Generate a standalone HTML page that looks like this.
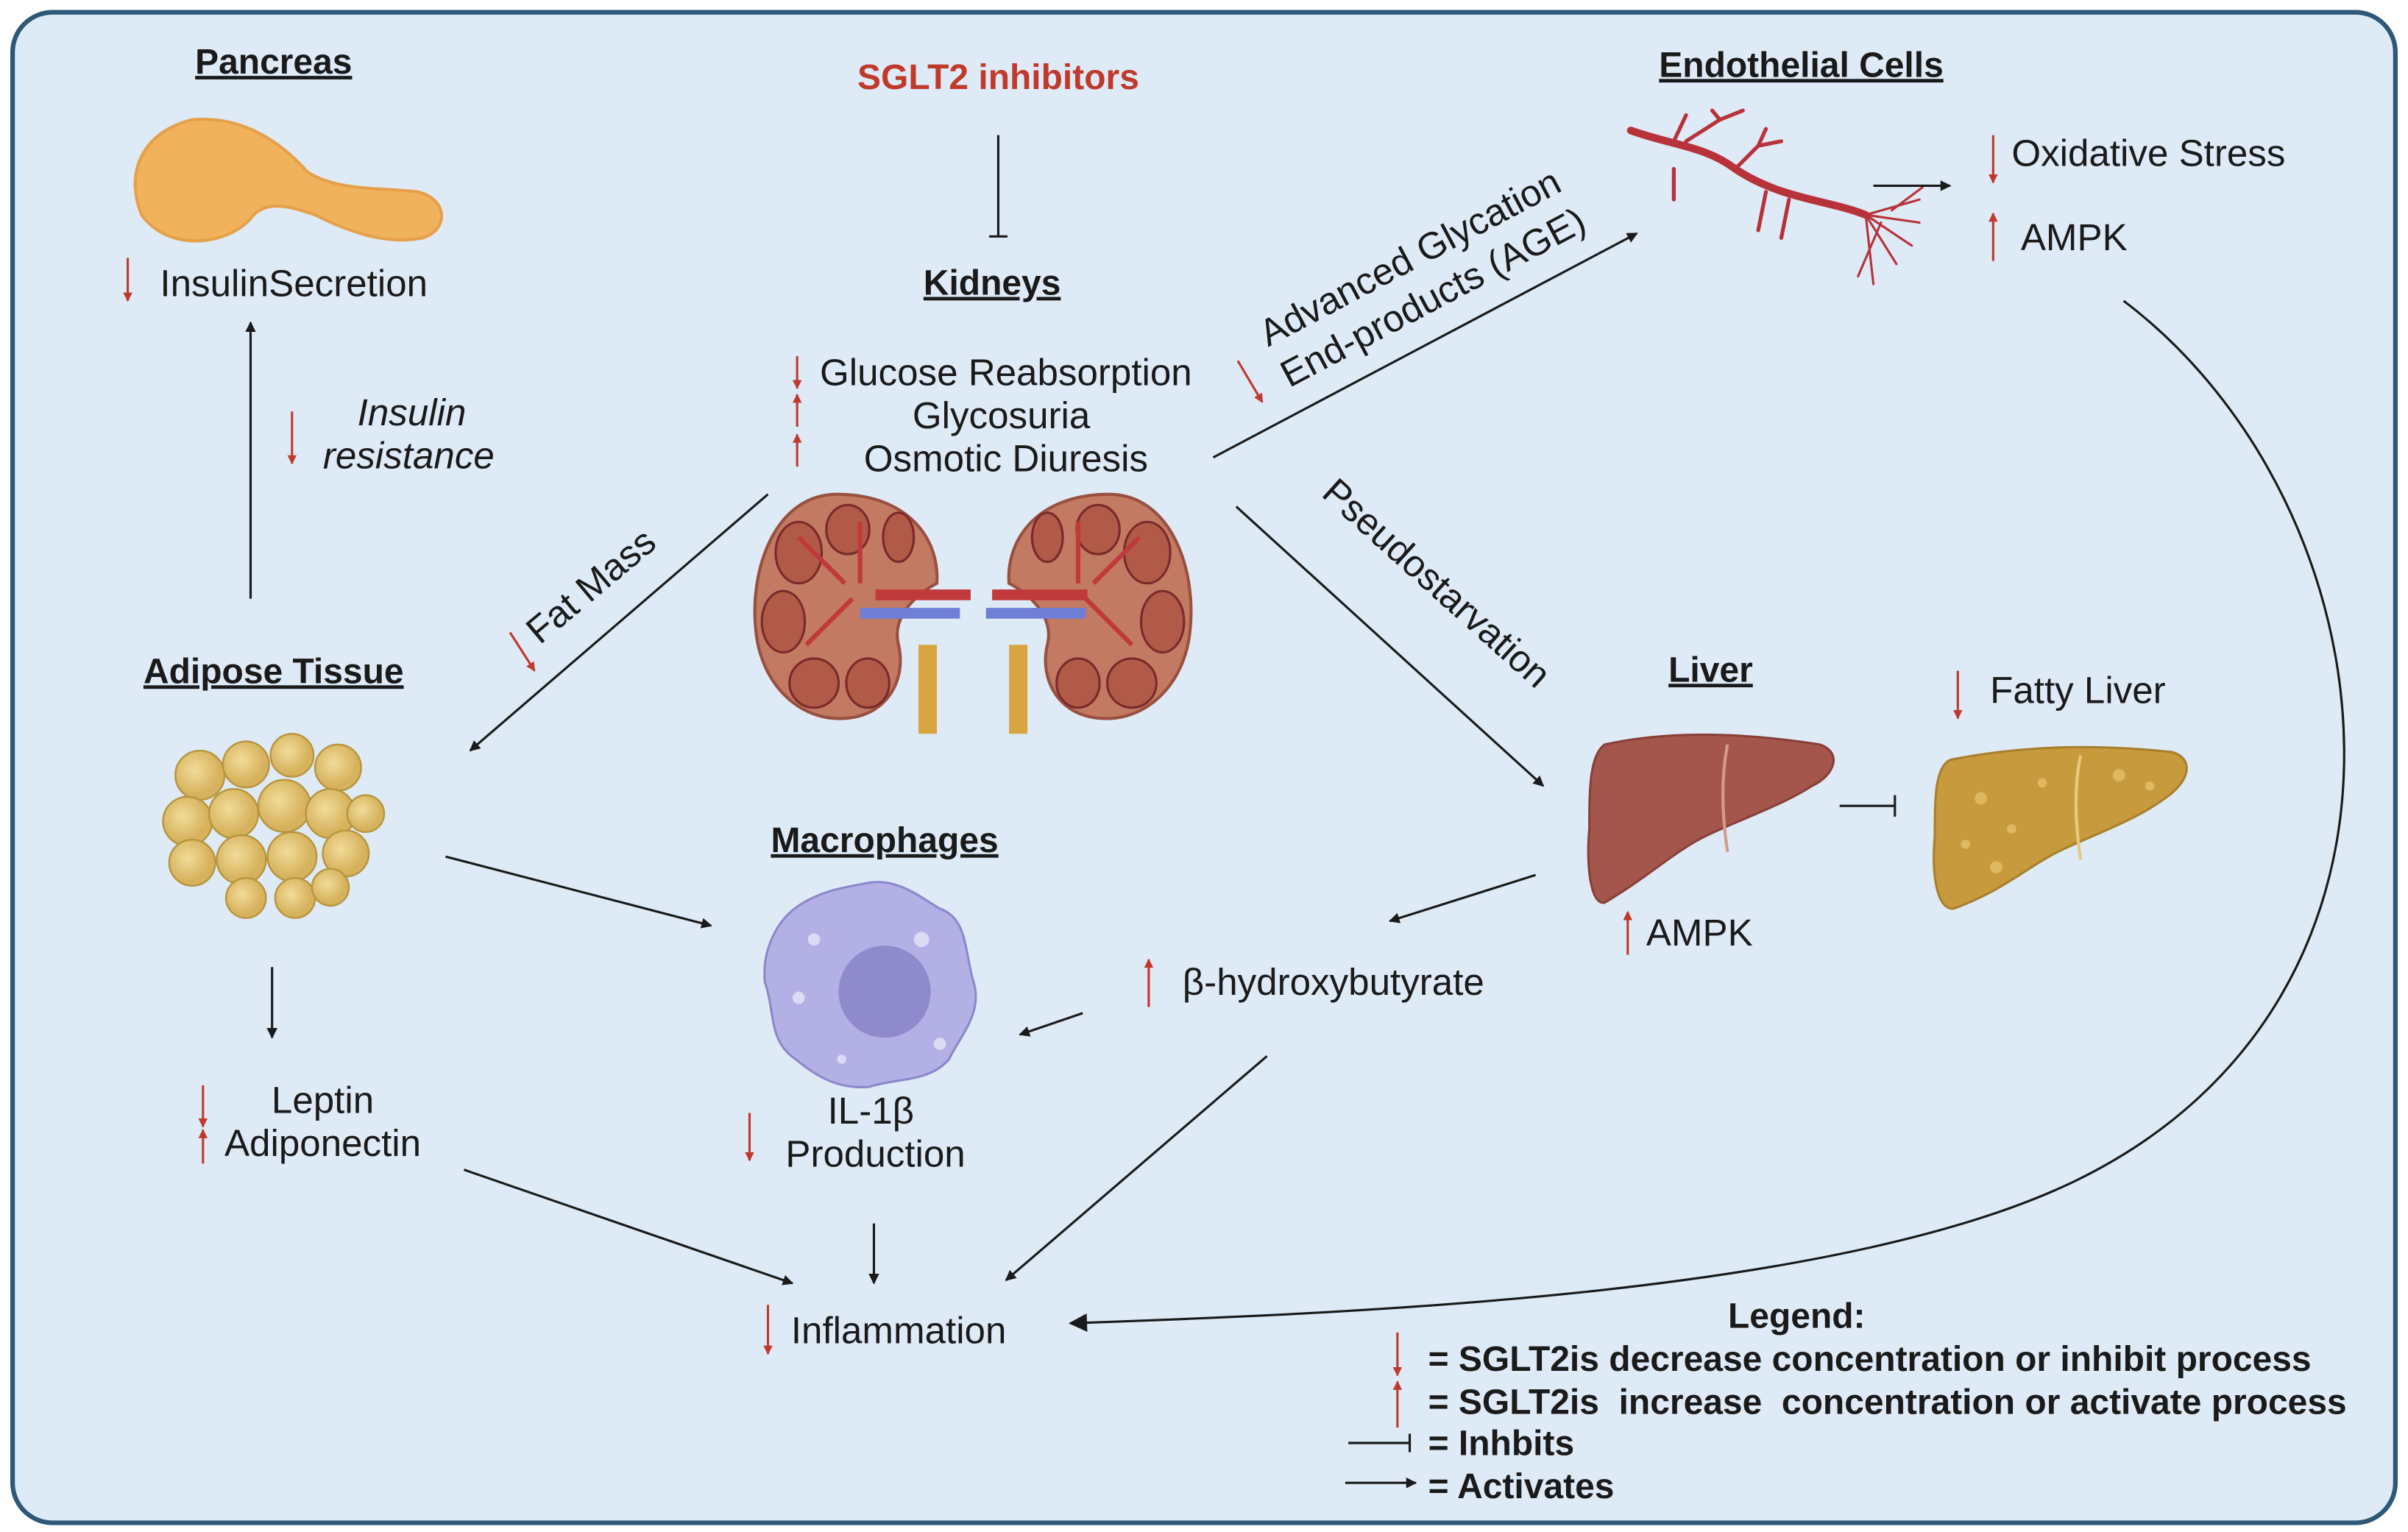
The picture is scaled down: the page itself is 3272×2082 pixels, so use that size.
<!DOCTYPE html>
<html><head><meta charset="utf-8"><style>
html,body{margin:0;padding:0;background:#fff}
svg{display:block}
text{font-family:"Liberation Sans",sans-serif;fill:#1a1a1a}
.h{font-weight:bold;font-size:23px;text-decoration:underline}
.t{font-size:24.5px}
.lg{font-size:23px;font-weight:bold}
</style></head><body>
<svg width="3272" height="2082" viewBox="0 0 1568 998" xmlns="http://www.w3.org/2000/svg">
<defs>
<marker id="a" viewBox="0 0 10 10" refX="9" refY="5" markerWidth="7" markerHeight="7" orient="auto" markerUnits="userSpaceOnUse"><path d="M0,0 L10,5 L0,10 z" fill="#1a1a1a"/></marker>
<marker id="ab" viewBox="0 0 10 10" refX="9" refY="5" markerWidth="14" markerHeight="12" orient="auto" markerUnits="userSpaceOnUse"><path d="M0,0 L10,5 L0,10 z" fill="#1a1a1a"/></marker>
<marker id="r" viewBox="0 0 10 10" refX="9" refY="5" markerWidth="8" markerHeight="6" orient="auto" markerUnits="userSpaceOnUse"><path d="M0,0 L10,5 L0,10 z" fill="#c0392b"/></marker>
<radialGradient id="cell" cx="0.4" cy="0.4"><stop offset="0" stop-color="#f2dc9a"/><stop offset="1" stop-color="#d6b25c"/></radialGradient>
</defs>
<rect x="0" y="0" width="1568" height="998" fill="#fff"/>
<rect x="8" y="8" width="1552" height="984" rx="26" fill="#deebf7" stroke="#2d5878" stroke-width="3"/>

<text class="h" x="178" y="48" text-anchor="middle">Pancreas</text>
<text x="650" y="58" text-anchor="middle" style="font-weight:bold;font-size:23px;fill:#c0392b">SGLT2 inhibitors</text>
<text class="h" x="1173" y="50" text-anchor="middle">Endothelial Cells</text>
<text class="h" x="646" y="192" text-anchor="middle">Kidneys</text>
<text class="h" x="178" y="445" text-anchor="middle">Adipose Tissue</text>
<text class="h" x="576" y="555" text-anchor="middle">Macrophages</text>
<text class="h" x="1114" y="444" text-anchor="middle">Liver</text>

<!-- pancreas -->
<path d="M92,140 C80,110 95,85 125,78 C160,75 185,95 200,112 C220,125 250,122 272,125 C292,130 292,150 275,155 C250,160 225,150 205,140 C190,135 175,130 165,140 C150,160 110,165 92,140 Z" fill="#f0b25c" stroke="#e6a04a" stroke-width="2"/>

<line x1="83" y1="168" x2="83" y2="196" stroke="#c0392b" stroke-width="1.5" marker-end="url(#r)"/>
<text class="t" x="104" y="193">InsulinSecretion</text>
<line x1="163" y1="390" x2="163" y2="210" stroke="#1a1a1a" stroke-width="1.5" marker-end="url(#a)"/>
<line x1="190" y1="268" x2="190" y2="302" stroke="#c0392b" stroke-width="1.5" marker-end="url(#r)"/>
<text class="t" x="268" y="277" text-anchor="middle" font-style="italic">Insulin</text>
<text class="t" x="266" y="305" text-anchor="middle" font-style="italic">resistance</text>

<line x1="650" y1="88" x2="650" y2="154" stroke="#1a1a1a" stroke-width="1.5"/>
<line x1="644" y1="154" x2="656" y2="154" stroke="#1a1a1a" stroke-width="1.5"/>

<line x1="519" y1="232" x2="519" y2="253" stroke="#c0392b" stroke-width="1.5" marker-end="url(#r)"/>
<line x1="519" y1="278" x2="519" y2="257" stroke="#c0392b" stroke-width="1.5" marker-end="url(#r)"/>
<line x1="519" y1="304" x2="519" y2="283" stroke="#c0392b" stroke-width="1.5" marker-end="url(#r)"/>
<text class="t" x="655" y="251" text-anchor="middle">Glucose Reabsorption</text>
<text class="t" x="652" y="279" text-anchor="middle">Glycosuria</text>
<text class="t" x="655" y="307" text-anchor="middle">Osmotic Diuresis</text>

<!-- kidneys -->
<g>
<path d="M598,420 L598,478 L610,478 L610,420 Z" fill="#d9a540"/>
<path d="M657,420 L657,478 L669,478 L669,420 Z" fill="#d9a540"/>
<path d="M545,322 C505,322 488,370 492,410 C495,445 520,470 550,468 C580,466 590,440 585,420 C580,400 600,385 610,380 C612,350 590,322 545,322 Z" fill="#c27a63" stroke="#9a5040" stroke-width="2"/>
<path d="M722,322 C762,322 779,370 775,410 C772,445 747,470 717,468 C687,466 677,440 682,420 C687,400 667,385 657,380 C655,350 677,322 722,322 Z" fill="#c27a63" stroke="#9a5040" stroke-width="2"/>
<g fill="#b25a48" stroke="#7a2a2a" stroke-width="1.5">
<ellipse cx="520" cy="360" rx="15" ry="20"/><ellipse cx="510" cy="405" rx="14" ry="20"/><ellipse cx="530" cy="445" rx="16" ry="16"/><ellipse cx="565" cy="445" rx="14" ry="16"/><ellipse cx="552" cy="345" rx="14" ry="16"/><ellipse cx="585" cy="350" rx="10" ry="16"/>
<ellipse cx="747" cy="360" rx="15" ry="20"/><ellipse cx="757" cy="405" rx="14" ry="20"/><ellipse cx="737" cy="445" rx="16" ry="16"/><ellipse cx="702" cy="445" rx="14" ry="16"/><ellipse cx="715" cy="345" rx="14" ry="16"/><ellipse cx="682" cy="350" rx="10" ry="16"/>
</g>
<rect x="560" y="396" width="65" height="7" fill="#6f7fd8"/>
<rect x="642" y="396" width="65" height="7" fill="#6f7fd8"/>
<rect x="570" y="384" width="62" height="7" fill="#c0393b"/>
<rect x="646" y="384" width="62" height="7" fill="#c0393b"/>
<path d="M550,380 L520,350 M555,390 L525,420 M560,380 L560,340 M712,380 L742,350 M707,390 L737,420 M702,380 L702,340" stroke="#c0393b" stroke-width="3"/>
</g>

<line x1="500" y1="322" x2="306" y2="489" stroke="#1a1a1a" stroke-width="1.5" marker-end="url(#a)"/>
<text class="t" x="390" y="388" text-anchor="middle" transform="rotate(-40 390 388)">Fat Mass</text>
<line x1="332" y1="412" x2="348" y2="437" stroke="#c0392b" stroke-width="1.5" marker-end="url(#r)"/>

<g fill="url(#cell)" stroke="#b8963f" stroke-width="1.2">
<circle cx="130" cy="505" r="16"/><circle cx="160" cy="498" r="15"/><circle cx="190" cy="492" r="14"/><circle cx="220" cy="500" r="15"/>
<circle cx="122" cy="535" r="16"/><circle cx="152" cy="530" r="16"/><circle cx="185" cy="525" r="17"/><circle cx="215" cy="530" r="16"/><circle cx="238" cy="530" r="12"/>
<circle cx="125" cy="562" r="15"/><circle cx="157" cy="560" r="16"/><circle cx="190" cy="558" r="16"/><circle cx="225" cy="556" r="15"/>
<circle cx="160" cy="585" r="13"/><circle cx="192" cy="585" r="13"/><circle cx="215" cy="578" r="12"/>
</g>
<line x1="177" y1="630" x2="177" y2="676" stroke="#1a1a1a" stroke-width="1.5" marker-end="url(#a)"/>
<line x1="132" y1="707" x2="132" y2="734" stroke="#c0392b" stroke-width="1.5" marker-end="url(#r)"/>
<line x1="132" y1="758" x2="132" y2="736" stroke="#c0392b" stroke-width="1.5" marker-end="url(#r)"/>
<text class="t" x="210" y="725" text-anchor="middle">Leptin</text>
<text class="t" x="210" y="753" text-anchor="middle">Adiponectin</text>

<line x1="290" y1="558" x2="463" y2="603" stroke="#1a1a1a" stroke-width="1.5" marker-end="url(#a)"/>

<path d="M566,575 C585,572 600,585 612,592 C630,598 628,620 634,640 C640,660 625,675 618,690 C605,705 585,702 566,708 C545,710 530,700 518,690 C500,678 505,660 498,640 C496,620 505,600 520,590 C535,580 550,578 566,575 Z" fill="#b3b0e6" stroke="#8c88cc" stroke-width="1.5"/>
<circle cx="576" cy="646" r="30" fill="#8f8acb"/>
<circle cx="530" cy="612" r="4" fill="#dcdaf5"/><circle cx="600" cy="612" r="5" fill="#dcdaf5"/><circle cx="520" cy="650" r="4" fill="#dcdaf5"/><circle cx="612" cy="680" r="4" fill="#dcdaf5"/><circle cx="548" cy="690" r="3" fill="#dcdaf5"/>
<line x1="488" y1="725" x2="488" y2="756" stroke="#c0392b" stroke-width="1.5" marker-end="url(#r)"/>
<text class="t" x="567" y="732" text-anchor="middle">IL-1β</text>
<text class="t" x="570" y="760" text-anchor="middle">Production</text>
<line x1="569" y1="797" x2="569" y2="836" stroke="#1a1a1a" stroke-width="1.5" marker-end="url(#a)"/>

<line x1="500" y1="850" x2="500" y2="882" stroke="#c0392b" stroke-width="1.5" marker-end="url(#r)"/>
<text class="t" x="515" y="875">Inflammation</text>
<line x1="302" y1="762" x2="516" y2="836" stroke="#1a1a1a" stroke-width="1.5" marker-end="url(#a)"/>
<line x1="825" y1="688" x2="655" y2="834" stroke="#1a1a1a" stroke-width="1.5" marker-end="url(#a)"/>
<line x1="705" y1="660" x2="664" y2="674" stroke="#1a1a1a" stroke-width="1.5" marker-end="url(#a)"/>

<line x1="748" y1="656" x2="748" y2="625" stroke="#c0392b" stroke-width="1.5" marker-end="url(#r)"/>
<text class="t" x="770" y="648">β-hydroxybutyrate</text>
<line x1="1000" y1="570" x2="905" y2="600" stroke="#1a1a1a" stroke-width="1.5" marker-end="url(#a)"/>

<line x1="805" y1="330" x2="1005" y2="512" stroke="#1a1a1a" stroke-width="1.5" marker-end="url(#a)"/>
<text class="t" x="930" y="386" text-anchor="middle" transform="rotate(42 930 386)">Pseudostarvation</text>

<line x1="790" y1="298" x2="1066" y2="152" stroke="#1a1a1a" stroke-width="1.5" marker-end="url(#a)"/>
<text class="t" x="922" y="175" text-anchor="middle" transform="rotate(-28 922 175)">Advanced Glycation</text>
<text class="t" x="937" y="201" text-anchor="middle" transform="rotate(-28 937 201)">End-products (AGE)</text>
<line x1="806" y1="235" x2="822" y2="262" stroke="#c0392b" stroke-width="1.5" marker-end="url(#r)"/>

<g stroke="#b8323a" fill="none" stroke-linecap="round">
<path d="M1062,85 C1090,95 1110,95 1130,110 C1160,130 1190,130 1215,140" stroke-width="5"/>
<path d="M1090,92 L1098,75 M1098,92 L1120,78 L1135,72 M1120,78 L1115,72 M1130,110 L1145,95 L1160,92 M1145,95 L1150,84 M1090,110 L1090,130 M1150,125 L1145,150 M1165,130 L1160,155" stroke-width="2.5"/>
<path d="M1215,140 L1250,130 M1215,140 L1250,145 M1215,140 L1245,160 M1215,140 L1235,172 M1215,140 L1220,185 M1225,145 L1210,180 M1232,137 L1252,122" stroke-width="1.5"/>
</g>
<line x1="1220" y1="121" x2="1270" y2="121" stroke="#1a1a1a" stroke-width="1.5" marker-end="url(#a)"/>
<line x1="1298" y1="88" x2="1298" y2="119" stroke="#c0392b" stroke-width="1.5" marker-end="url(#r)"/>
<text class="t" x="1310" y="108">Oxidative Stress</text>
<line x1="1298" y1="170" x2="1298" y2="139" stroke="#c0392b" stroke-width="1.5" marker-end="url(#r)"/>
<text class="t" x="1316" y="163">AMPK</text>

<path d="M1383,196 C1560,330 1600,650 1350,770 C1200,842 900,855 697,862" fill="none" stroke="#1a1a1a" stroke-width="1.5" marker-end="url(#ab)"/>

<path d="M1045,485 C1090,475 1140,478 1185,485 C1200,490 1195,505 1180,512 C1160,525 1130,535 1110,545 C1090,555 1075,570 1045,588 C1035,590 1033,560 1035,540 C1035,515 1035,492 1045,485 Z" fill="#a5564c" stroke="#884038" stroke-width="1.5"/>
<path d="M1125,485 C1120,510 1122,535 1125,555" stroke="#d49a8c" stroke-width="2" fill="none"/>
<line x1="1198" y1="525" x2="1234" y2="525" stroke="#1a1a1a" stroke-width="1.5"/>
<line x1="1234" y1="518" x2="1234" y2="532" stroke="#1a1a1a" stroke-width="1.5"/>
<path d="M1270,495 C1320,485 1370,485 1415,490 C1430,495 1425,510 1410,520 C1390,535 1360,545 1340,555 C1320,565 1305,580 1272,592 C1260,592 1258,565 1260,545 C1260,520 1260,500 1270,495 Z" fill="#c89a3e" stroke="#a8802c" stroke-width="1.5"/>
<path d="M1355,492 C1350,515 1352,540 1355,560" stroke="#e8c880" stroke-width="2" fill="none"/>
<g fill="#e0b860"><circle cx="1290" cy="520" r="4"/><circle cx="1310" cy="540" r="3"/><circle cx="1300" cy="565" r="4"/><circle cx="1330" cy="510" r="3"/><circle cx="1380" cy="505" r="4"/><circle cx="1400" cy="512" r="3"/><circle cx="1280" cy="550" r="3"/></g>
<line x1="1275" y1="437" x2="1275" y2="468" stroke="#c0392b" stroke-width="1.5" marker-end="url(#r)"/>
<text class="t" x="1296" y="458">Fatty Liver</text>
<line x1="1060" y1="622" x2="1060" y2="594" stroke="#c0392b" stroke-width="1.5" marker-end="url(#r)"/>
<text class="t" x="1072" y="616">AMPK</text>

<text class="lg" x="1170" y="865" text-anchor="middle">Legend:</text>
<line x1="910" y1="868" x2="910" y2="896" stroke="#c0392b" stroke-width="1.5" marker-end="url(#r)"/>
<text class="lg" x="930" y="893">= SGLT2is decrease concentration or inhibit process</text>
<line x1="910" y1="930" x2="910" y2="900" stroke="#c0392b" stroke-width="1.5" marker-end="url(#r)"/>
<text class="lg" x="930" y="921" xml:space="preserve">= SGLT2is  increase  concentration or activate process</text>
<line x1="878" y1="940" x2="918" y2="940" stroke="#1a1a1a" stroke-width="1.5"/>
<line x1="918" y1="934" x2="918" y2="946" stroke="#1a1a1a" stroke-width="1.5"/>
<text class="lg" x="930" y="948">= Inhbits</text>
<line x1="876" y1="966" x2="922" y2="966" stroke="#1a1a1a" stroke-width="1.5" marker-end="url(#a)"/>
<text class="lg" x="930" y="976">= Activates</text>
</svg>
</body></html>
